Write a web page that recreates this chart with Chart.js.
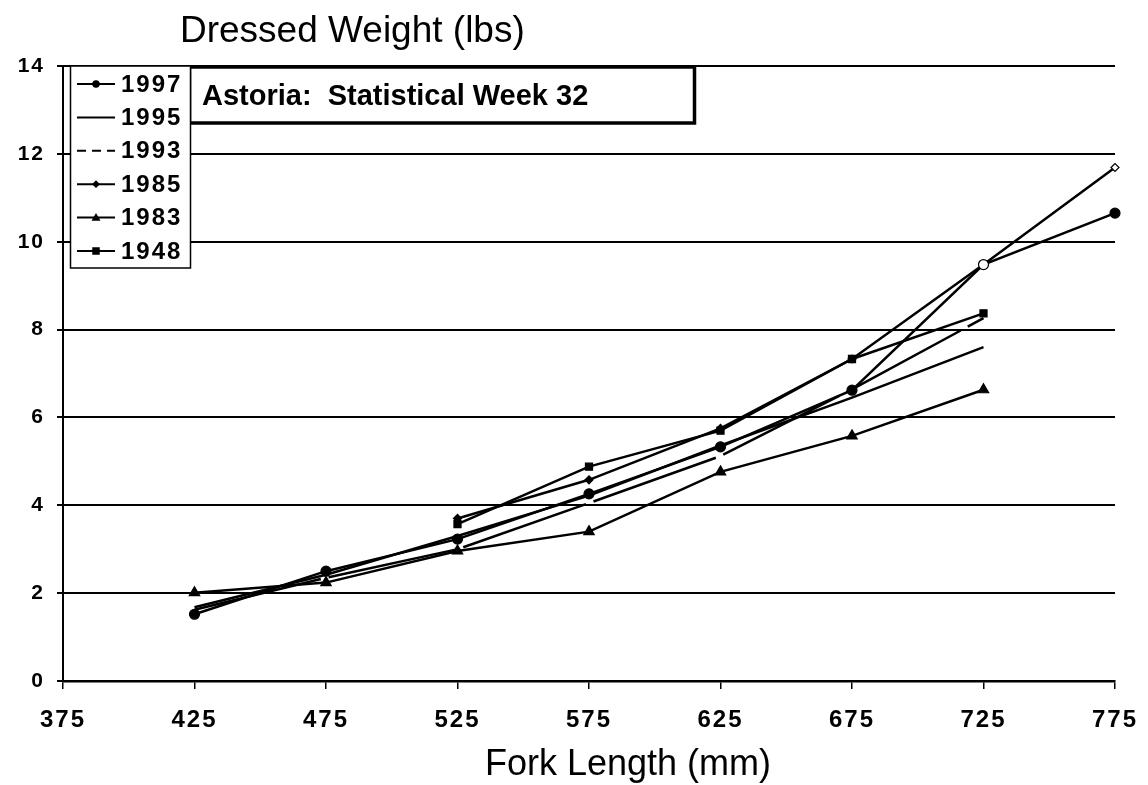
<!DOCTYPE html>
<html>
<head>
<meta charset="utf-8">
<script src="https://cdn.jsdelivr.net/npm/chart.js@4/dist/chart.umd.min.js"></script>
<style>
  html,body{margin:0;padding:0;background:#fff;}
  #wrap{width:1148px;height:785px;}
</style>
</head>
<body>
<div id="wrap"><canvas id="chart" width="1148" height="785"></canvas></div>
<script>
// fork length (mm) and dressed weight (lbs) by year
const lengths = [425, 475, 525, 575, 625, 675, 725, 775];
const w1997 = [1.52, 2.50, 3.23, 4.26, 5.33, 6.62, 9.48, 10.65];
const w1995 = [1.68, 2.42, 3.30, 4.22, 5.36, 6.45, 7.60, null];
const w1993 = [1.62, 2.35, 3.00, 4.05, 5.12, 6.64, 8.26, null];
const w1985 = [null, null, 3.70, 4.58, 5.75, 7.33, 9.48, 11.69];
const w1983 = [2.01, 2.24, 2.96, 3.40, 4.76, 5.58, 6.63, null];
const w1948 = [null, null, 3.57, 4.88, 5.70, 7.33, 8.37, null];
const xTicks = [375, 425, 475, 525, 575, 625, 675, 725, 775];
const yTicks = [0, 2, 4, 6, 8, 10, 12, 14];

const FONT = '"Liberation Sans", Arial, sans-serif';
const pts = vals => lengths.map((x, i) => ({x, y: vals[i]})).filter(p => p.y != null);

function series(label, vals, style, radius, dash){
  return {label, data: pts(vals), borderColor:'#000', backgroundColor:'#000',
    borderWidth:2.5, borderDash:dash||[], pointStyle:style||'circle',
    pointRadius:radius||0, pointHoverRadius:radius||0, pointBorderWidth:1.2, tension:0, clip:false};
}

const datasets = [
  series('1997', w1997, 'circle', 5),
  series('1995', w1995, 'circle', 0),
  series('1993', w1993, 'circle', 0, [130, 8]),
  series('1985', w1985, 'rectRot', 4),
  series('1983', w1983, 'triangle', 6),
  series('1948', w1948, 'rect', 5)
];
// the 1997 marker at 725 mm and the last 1985 marker print hollow
datasets[0].pointBackgroundColor = ctx => ctx.dataIndex === 6 ? '#fff' : '#000';
datasets[3].pointBackgroundColor = ctx => ctx.dataIndex === 5 ? '#fff' : '#000';

function marker(ctx, style, r, x, y){
  if(!r) return;
  ctx.beginPath();
  if(style==='circle') ctx.arc(x, y, r, 0, Math.PI*2);
  else if(style==='rect') ctx.rect(x-r, y-r, 2*r, 2*r);
  else if(style==='rectRot'){ ctx.moveTo(x, y-r*1.3); ctx.lineTo(x+r*1.3, y); ctx.lineTo(x, y+r*1.3); ctx.lineTo(x-r*1.3, y); ctx.closePath(); }
  else if(style==='triangle'){ ctx.moveTo(x, y-r); ctx.lineTo(x+r, y+r*0.7); ctx.lineTo(x-r, y+r*0.7); ctx.closePath(); }
  ctx.fill();
}

const annotations = {
  id:'annotations',
  beforeDraw(chart){ chart.ctx.letterSpacing = '2px'; },
  beforeDatasetsDraw(chart){ chart.ctx.letterSpacing = '0px'; },
  afterDraw(chart){
    const ctx = chart.ctx, a = chart.chartArea;
    ctx.save();
    ctx.letterSpacing = '0px';
    ctx.fillStyle = '#000'; ctx.strokeStyle = '#000';
    // axis titles
    ctx.font = '37px ' + FONT; ctx.textBaseline = 'middle'; ctx.textAlign = 'left';
    ctx.fillText('Dressed Weight (lbs)', 180, 32);
    ctx.font = '36px ' + FONT; ctx.textAlign = 'center';
    ctx.fillText('Fork Length (mm)', 628, 765);
    // caption box
    ctx.fillStyle = '#fff'; ctx.fillRect(188, a.top, 507, 58);
    ctx.lineWidth = 3.5; ctx.strokeRect(189.5, a.top + 1, 505, 56);
    ctx.fillStyle = '#000'; ctx.textAlign = 'left';
    ctx.font = 'bold 29px ' + FONT;
    ctx.fillText('Astoria:  Statistical Week 32', 202, a.top + 31);
    // legend box
    ctx.fillStyle = '#fff'; ctx.fillRect(70, a.top, 121, 202);
    ctx.lineWidth = 1.5; ctx.strokeRect(70.5, a.top, 120, 202);
    ctx.font = 'bold 24px ' + FONT; ctx.letterSpacing = '2px';
    chart.data.datasets.forEach((ds, i) => {
      const y = a.top + 18 + i * 33.4;
      ctx.fillStyle = '#000'; ctx.lineWidth = 2;
      ctx.setLineDash(ds.borderDash.length ? [9, 6] : []);
      ctx.beginPath(); ctx.moveTo(77, y); ctx.lineTo(115, y); ctx.stroke();
      ctx.setLineDash([]);
      marker(ctx, ds.pointStyle, ds.pointRadius * 0.75, 96, y);
      ctx.fillText(ds.label, 121, y + 1);
    });
    ctx.restore();
  }
};

new Chart(document.getElementById('chart'), {
  type:'line',
  data:{datasets},
  options:{
    responsive:false, animation:false,
    layout:{padding:{left:0, right:33, top:66, bottom:44}},
    plugins:{legend:{display:false}, tooltip:{enabled:false}},
    scales:{
      x:{type:'linear', min:xTicks[0], max:xTicks[xTicks.length-1],
        afterBuildTicks: s => { s.ticks = xTicks.map(v => ({value:v})); },
        afterFit: s => { s.height = 60; s.paddingLeft = 0; s.paddingRight = 0; },
        grid:{drawOnChartArea:false, drawTicks:true, tickLength:8, color:'#000', lineWidth:1.5},
        border:{display:true, color:'#000', width:2.5},
        ticks:{color:'#000', padding:17, maxRotation:0, font:{family:FONT, size:24, weight:'bold'}}
      },
      y:{min:0, max:14,
        afterBuildTicks: s => { s.ticks = yTicks.map(v => ({value:v})); },
        afterFit: s => { s.width = 63; },
        grid:{color:'#000', lineWidth:2, tickLength:6},
        border:{display:true, color:'#000', width:2},
        ticks:{color:'#000', padding:12, font:{family:FONT, size:21, weight:'bold'}}
      }
    }
  },
  plugins:[annotations]
});
</script>
</body>
</html>
